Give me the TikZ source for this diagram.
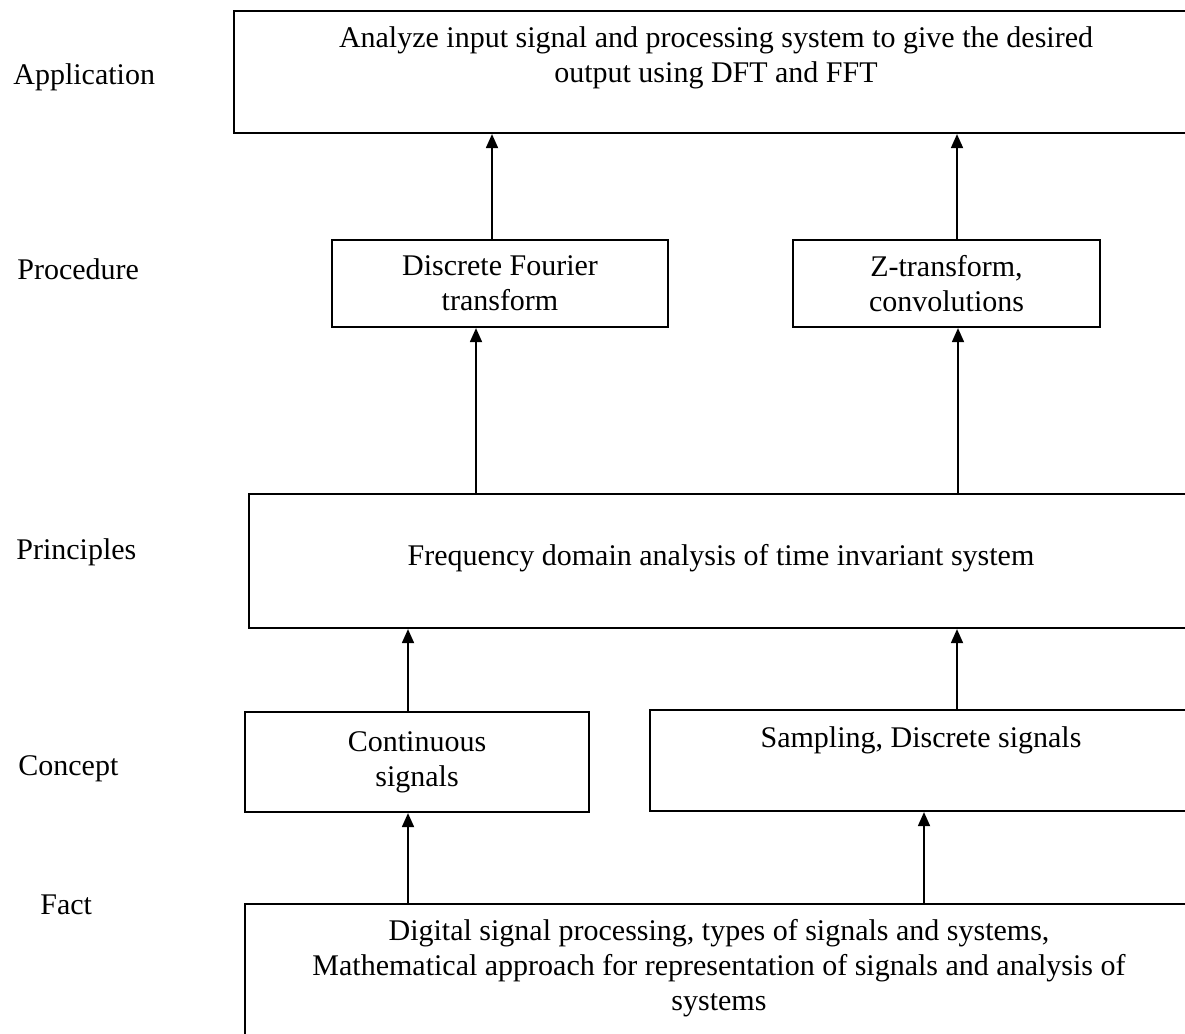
\documentclass[tikz,border=0pt]{standalone}
\usepackage{fontspec}
\setmainfont{Liberation Serif}
\usetikzlibrary{arrows.meta}
\begin{document}
\begin{tikzpicture}[x=0.5pt,y=-0.5pt,
  box/.style={draw,line width=1.1pt,inner sep=0pt,rectangle,align=center,font=\fontsize{15pt}{17.5pt}\selectfont},
  txt/.style={align=center,font=\fontsize{15pt}{17.5pt}\selectfont,inner sep=0pt},
  lbl/.style={anchor=west,font=\fontsize{15pt}{17.5pt}\selectfont,inner sep=0pt},
  arr/.style={line width=0.9pt,-{Triangle[length=7pt,width=6pt]}}]
\clip (0,0) rectangle (1185,1034);
\fill[white] (0,0) rectangle (1185,1034);

% level labels
\node[lbl] (lapp)  at (13,77)  {Application};
\node[lbl] (lproc) at (17,269) {Procedure};
\node[lbl] (lprin) at (16,552) {Principles};
\node[lbl] (lconc) at (18,769) {Concept};
\node[lbl] (lfact) at (40,905) {Fact};

% boxes
\node[box,minimum width=481pt,minimum height=61pt] (app) at (715,72) {};
\node[txt] (appt) at (716,57.5) {Analyze input signal and processing system to give the desired\\output using DFT and FFT};

\node[box,minimum width=168pt,minimum height=43.5pt] (dft) at (500,283.5) {Discrete Fourier\\transform};
\node[box,minimum width=153.5pt,minimum height=43.5pt] (zt) at (946.5,283.5) {Z-transform,\\convolutions};

\node[box,minimum width=472pt,minimum height=67pt] (prin) at (721,561) {};
\node[txt] (print) at (721,558) {Frequency domain analysis of time invariant system};

\node[box,minimum width=172pt,minimum height=50pt] (cont) at (417,762) {Continuous\\signals};
\node[box,minimum width=271.5pt,minimum height=50.5pt] (samp) at (921.5,760.5) {};
\node[txt] (sampt) at (921,740) {Sampling, Discrete signals};

\node[box,minimum width=474pt,minimum height=98pt] (fact) at (719,1002) {};
\node[txt] (factt) at (719,968) {Digital signal processing, types of signals and systems,\\Mathematical approach for representation of signals and analysis of\\systems};

% connector columns
\coordinate (c1) at (492,0);
\coordinate (c2) at (957,0);
\coordinate (c3) at (476,0);
\coordinate (c4) at (958,0);
\coordinate (c5) at (408,0);
\coordinate (c6) at (957,0);
\coordinate (c7) at (924,0);

\draw[arr] (dft.north -| c1) -- (app.south -| c1);
\draw[arr] (zt.north -| c2) -- (app.south -| c2);
\draw[arr] (prin.north -| c3) -- (dft.south -| c3);
\draw[arr] (prin.north -| c4) -- (zt.south -| c4);
\draw[arr] (cont.north -| c5) -- (prin.south -| c5);
\draw[arr] (samp.north -| c6) -- (prin.south -| c6);
\draw[arr] (fact.north -| c5) -- (cont.south -| c5);
\draw[arr] (fact.north -| c7) -- (samp.south -| c7);
\end{tikzpicture}
\end{document}
